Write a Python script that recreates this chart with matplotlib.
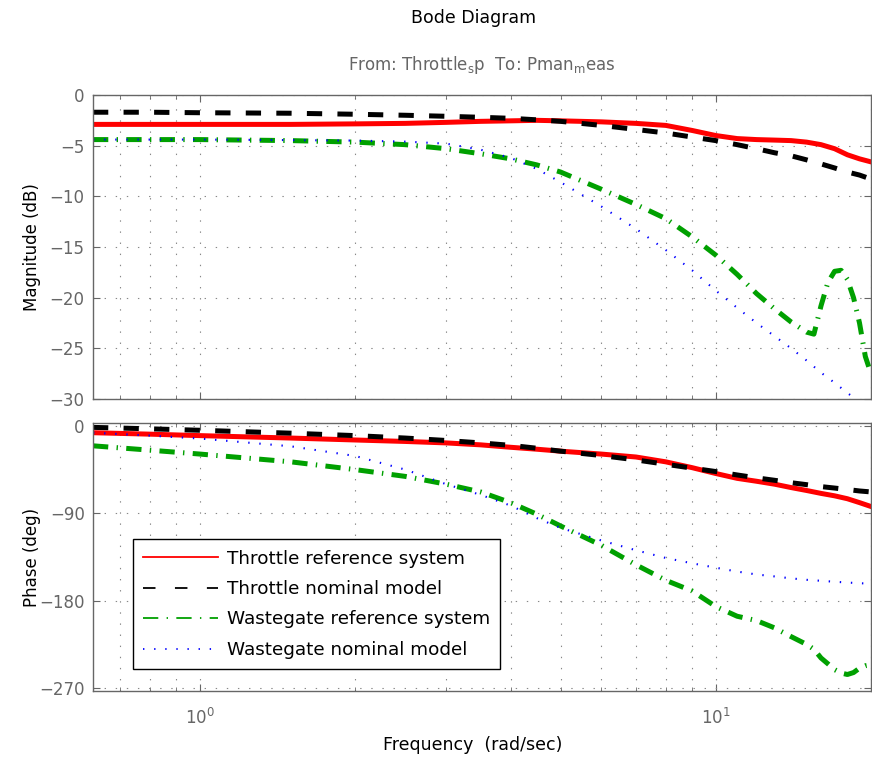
import matplotlib
matplotlib.use('Agg')
import matplotlib.pyplot as plt
from matplotlib.lines import Line2D
from matplotlib.ticker import FixedLocator, NullFormatter

# frequency points (rad/sec)
w = [0.62, 0.8, 1, 1.5, 2, 2.5, 3, 3.5, 4, 4.5, 5, 6, 7, 8, 9, 10,
     11, 12, 13, 14, 15, 16, 17, 18, 19, 20]
w_wg = [0.62, 0.8, 1, 1.5, 2, 2.5, 3, 3.5, 4, 4.5, 5, 6, 7, 8, 9, 10,
        11, 12, 13, 14, 15, 15.5, 16, 16.5, 17, 17.5, 18, 18.5, 19, 19.5, 20]

# magnitude (dB)
mag_thr_ref = [-2.9, -2.9, -2.9, -2.9, -2.85, -2.8, -2.7, -2.6, -2.55, -2.5, -2.55,
               -2.65, -2.8, -3.0, -3.5, -4.0, -4.3, -4.4, -4.45, -4.5, -4.65, -4.9,
               -5.3, -5.9, -6.3, -6.6]
mag_thr_nom = [-1.7, -1.7, -1.75, -1.8, -1.9, -2.0, -2.1, -2.2, -2.3, -2.45, -2.6,
               -3.0, -3.4, -3.75, -4.15, -4.5, -4.9, -5.3, -5.7, -6.0, -6.4, -6.8,
               -7.2, -7.6, -7.9, -8.3]
mag_wg_ref = [-4.4, -4.4, -4.4, -4.5, -4.65, -4.9, -5.3, -5.8, -6.3, -6.9, -7.6,
              -9.3, -10.8, -12.2, -14.0, -15.8, -17.7, -19.6, -21.1, -22.4, -23.4,
              -23.6, -20.8, -18.5, -17.4, -17.3, -18.2, -20.0, -22.5, -25.8, -27.5]
mag_wg_nom = [-4.4, -4.4, -4.4, -4.45, -4.5, -4.6, -4.8, -5.4, -6.2, -7.3, -8.6,
              -11.0, -13.2, -15.3, -17.3, -19.3, -21.0, -22.5, -23.8, -25.0, -26.2,
              -27.4, -28.4, -29.4, -30.3, -31.2]

# phase (deg)
ph_thr_ref = [-7, -8.5, -10, -12.5, -14.5, -16, -17.5, -19.5, -22, -24, -26,
              -29, -32, -37, -43, -49, -54, -57, -60, -63.5, -66.5, -69.5,
              -72, -75, -79, -83]
ph_thr_nom = [-1.5, -3, -4.5, -7.5, -10, -12.5, -15, -17.5, -20, -23, -26,
              -30.5, -35, -39.5, -43.5, -47, -50.5, -53.5, -56, -58.5, -60.5,
              -62.5, -64, -65.5, -67, -68]
ph_wg_ref = [-20.5, -25, -29, -37, -45, -52, -60, -68, -79, -91, -103, -123,
             -143, -159, -170, -186, -196, -200.5, -208, -217, -225, -230, -239,
             -245, -251, -254.5, -256, -254, -249.5, -247, -246]
ph_wg_nom = [-7, -10, -13, -21, -31, -45, -60, -71, -82, -95, -105, -118,
             -128, -136, -141.5, -146, -150, -153, -155, -157, -158.5, -159.5,
             -160.5, -161.3, -162, -162.5]

labels = ['Throttle reference system', 'Throttle nominal model',
          'Wastegate reference system', 'Wastegate nominal model']

plt.rcParams['font.family'] = ['DejaVu Sans']
plt.rcParams['lines.scale_dashes'] = False

gray = '#666666'
styles = [
    dict(color='#ff0000', ls='-'),
    dict(color='#000000', ls=(0, (11, 11))),
    dict(color='#00a000', ls=(0, (11, 6, 1, 6))),
    dict(color='#0000ff', ls=(0, (1, 7))),
]
widths = [3.6, 3.6, 3.6, 1.5]

fig = plt.figure(figsize=(8.72, 7.61), dpi=100)
ax1 = fig.add_axes([93/872, 1-399/761, 778/872, 304/761])
ax2 = fig.add_axes([93/872, 1-691/761, 778/872, 268/761])

ax1.plot(w, mag_thr_ref, lw=widths[0], **styles[0])
ax1.plot(w, mag_thr_nom, lw=widths[1], **styles[1])
ax1.plot(w_wg, mag_wg_ref, lw=widths[2], **styles[2])
ax1.plot(w, mag_wg_nom, lw=widths[3], **styles[3])

ax2.plot(w, ph_thr_ref, lw=widths[0], **styles[0])
ax2.plot(w, ph_thr_nom, lw=widths[1], **styles[1])
ax2.plot(w_wg, ph_wg_ref, lw=widths[2], **styles[2])
ax2.plot(w, ph_wg_nom, lw=widths[3], **styles[3])

minor_x = [0.7, 0.8, 0.9, 2, 3, 4, 5, 6, 7, 8, 9, 20]
for ax in (ax1, ax2):
    ax.set_xscale('log')
    ax.set_xlim(0.62, 20)
    ax.xaxis.set_major_locator(FixedLocator([1, 10]))
    ax.xaxis.set_minor_locator(FixedLocator(minor_x))
    ax.xaxis.set_minor_formatter(NullFormatter())
    ax.tick_params(which='both', direction='in', top=True, right=True,
                   colors=gray, labelsize=12)
    ax.tick_params(which='major', length=5, pad=6)
    ax.tick_params(which='minor', length=3)
    for s in ax.spines.values():
        s.set_color(gray)
        s.set_linewidth(1.0)
    ax.grid(True, which='major', ls=(0, (1, 7)), color='#888888', lw=0.8)
    ax.grid(True, which='minor', axis='x', ls=(0, (1, 7)), color='#888888', lw=0.8)

ax1.set_ylim(-30, 0)
ax1.set_yticks([0, -5, -10, -15, -20, -25, -30])
ax1.tick_params(axis='x', labelbottom=False)

ax2.set_ylim(-273, 3)
ax2.set_yticks([0, -90, -180, -270])
ax2.tick_params(axis='x', which='major', pad=12)

handles = [Line2D([], [], lw=1.3, **st) for st in styles]
handles[1].set_linestyle((0, (9, 14)))
leg = ax2.legend(handles, labels, loc='lower left', fontsize=13.2,
                 bbox_to_anchor=(133/872, 1-669/761), bbox_transform=fig.transFigure,
                 borderaxespad=0, handlelength=4.1, handletextpad=0.45,
                 labelspacing=0.68, borderpad=0.55, fancybox=False,
                 framealpha=1, edgecolor='black')
leg.get_frame().set_linewidth(1.0)

fig.text(474/872, 1-18/761, 'Bode Diagram', ha='center', va='center', fontsize=12.5)
fig.text(482/872, 1-65/761, r'From: Throttle$_{\mathrm{s}}$p  To: Pman$_{\mathrm{m}}$eas',
         ha='center', va='center', fontsize=12, color=gray)
fig.text(32/872, 1-247/761, 'Magnitude (dB)', rotation=90, ha='center', va='center', fontsize=12)
fig.text(32/872, 1-557/761, 'Phase (deg)', rotation=90, ha='center', va='center', fontsize=12)
fig.text(473/872, 1-745/761, 'Frequency  (rad/sec)', ha='center', va='center', fontsize=12.5)

fig.savefig('out.png', dpi=100)
